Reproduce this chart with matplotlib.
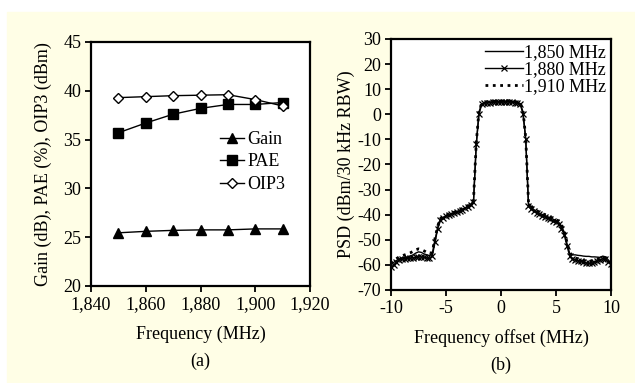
import numpy as np
import matplotlib.pyplot as plt
from matplotlib.patches import Rectangle

plt.rcParams['font.family'] = ['Liberation Serif', 'DejaVu Serif']
plt.rcParams['font.size'] = 13
plt.rcParams['axes.unicode_minus'] = False

# (a) gain / PAE / OIP3 against frequency
freq = [1850, 1860, 1870, 1880, 1890, 1900, 1910]
gain = [25.45, 25.6, 25.7, 25.75, 25.75, 25.85, 25.85]
pae = [35.7, 36.7, 37.6, 38.2, 38.6, 38.6, 38.8]
oip3 = [39.3, 39.4, 39.5, 39.55, 39.6, 39.1, 38.45]
freq_ticks = [1840, 1860, 1880, 1900, 1920]
freq_labels = ['1,840', '1,860', '1,880', '1,900', '1,920']
left_yticks = [20, 25, 30, 35, 40, 45]

# (b) PSD against frequency offset, sampled every 0.25 MHz
offset = np.arange(-10, 10.001, 0.25)
psd_1850 = [-60.0, -59.0, -58.2, -57.6, -57.2, -57.0, -56.8, -56.5, -56.0, -55.3,
            -54.8, -55.0, -55.6, -56.0, -56.3, -55.5, -50.0, -45.0, -41.8, -41.0,
            -40.4, -40.0, -39.6, -39.2, -38.8, -38.3, -37.8, -37.2, -36.6, -35.8,
            -34.5, -12.0, 1.0, 4.2, 4.6, 4.8, 4.9, 5.0, 5.0, 5.1,
            5.0, 5.1, 5.2, 5.1, 5.0, 4.9, 4.7, 4.3, 1.0, -10.0,
            -35.5, -37.0, -38.0, -38.8, -39.4, -39.9, -40.4, -40.9, -41.3, -41.8,
            -42.3, -43.0, -44.5, -47.0, -51.5, -55.5, -56.0, -56.0, -56.2, -56.3,
            -56.5, -56.6, -56.6, -56.8, -56.8, -56.9, -57.0, -56.5, -56.8, -58.0,
            -59.5]
psd_1880 = [-61.0, -60.0, -58.8, -58.0, -57.8, -57.6, -57.4, -57.3, -57.2, -57.0,
            -56.8, -56.8, -57.0, -57.2, -57.4, -56.5, -51.0, -45.5, -42.3, -41.2,
            -40.6, -40.2, -39.8, -39.4, -39.0, -38.6, -38.0, -37.4, -36.8, -36.0,
            -35.0, -12.0, 0.0, 4.0, 4.4, 4.6, 4.7, 4.8, 4.8, 4.9,
            4.8, 4.9, 5.0, 4.9, 4.8, 4.7, 4.5, 4.1, 0.0, -10.0,
            -36.5, -37.8, -38.6, -39.3, -39.9, -40.4, -40.9, -41.4, -41.9, -42.4,
            -43.0, -43.8, -45.5, -48.0, -52.5, -56.5, -57.5, -58.0, -58.3, -58.6,
            -58.9, -59.2, -59.4, -59.3, -59.0, -58.5, -58.0, -57.5, -57.8, -58.8,
            -59.8]
psd_1910 = [-59.5, -58.5, -57.5, -56.8, -56.4, -56.0, -55.6, -55.2, -54.6, -54.0,
            -53.6, -53.8, -54.4, -55.0, -55.4, -55.0, -49.5, -44.5, -41.5, -40.8,
            -40.2, -39.8, -39.4, -39.0, -38.6, -38.0, -37.5, -37.0, -36.4, -35.6,
            -34.2, -11.5, 1.5, 4.4, 4.8, 5.0, 5.1, 5.2, 5.2, 5.3,
            5.2, 5.3, 5.4, 5.3, 5.2, 5.1, 4.9, 4.5, 1.5, -9.5,
            -35.0, -36.6, -37.6, -38.4, -39.0, -39.5, -40.0, -40.5, -41.0, -41.4,
            -41.9, -42.6, -44.0, -46.5, -51.0, -55.0, -56.5, -57.2, -57.6, -57.9,
            -58.2, -58.4, -58.5, -58.4, -58.2, -57.8, -57.4, -57.0, -57.3, -58.2,
            -59.2]
offset_ticks = [-10, -5, 0, 5, 10]
psd_yticks = [30, 20, 10, 0, -10, -20, -30, -40, -50, -60, -70]

W, H = 635, 383
fig = plt.figure(figsize=(W / 100, H / 100), dpi=100)
fig.patch.set_facecolor('white')
fig.patches.append(Rectangle((7 / W, 0), 1 - 7 / W, (H - 12) / H,
                             transform=fig.transFigure, color='#FFFEE6', zorder=-10))


def style(ax):
    for s in ax.spines.values():
        s.set_linewidth(1.6)
    ax.tick_params(direction='out', length=4, width=1.3, top=False, right=False, pad=3)


# panel (a)
ax1 = fig.add_axes([91 / W, 1 - 286 / H, 219 / W, 244 / H])
ax1.plot(freq, gain, '-^', color='black', lw=1, ms=7, label='Gain')
ax1.plot(freq, pae, '-s', color='black', lw=1, ms=6.5, label='PAE')
ax1.plot(freq, oip3, '-D', color='black', mfc='white', lw=1, ms=5, label='OIP3')
ax1.set_xlim(1840, 1920)
ax1.set_ylim(20, 45)
ax1.set_xticks(freq_ticks)
ax1.set_xticklabels(freq_labels)
ax1.set_yticks(left_yticks)
style(ax1)
ax1.set_ylabel('Gain (dB), PAE (%), OIP3 (dBm)', labelpad=8)
ax1.set_xlabel('Frequency (MHz)', labelpad=9)
ax1.text(0.5, -0.31, '(a)', transform=ax1.transAxes, ha='center', va='center')
ax1.legend(loc='upper left', bbox_to_anchor=(0.59, 0.635), frameon=False,
           handlelength=1.3, handletextpad=0.2, labelspacing=0.3, borderpad=0,
           borderaxespad=0)

# panel (b)
ax2 = fig.add_axes([391 / W, 1 - 290 / H, 220 / W, 251 / H])
ax2.plot(offset, psd_1850, '-', color='black', lw=1, label='1,850 MHz')
ax2.plot(offset, psd_1880, '-x', color='black', lw=1, ms=4, mew=0.9, label='1,880 MHz')
ax2.plot(offset, psd_1910, ':', color='black', lw=2, label='1,910 MHz')
ax2.set_xlim(-10, 10)
ax2.set_ylim(-70, 30)
ax2.set_xticks(offset_ticks)
ax2.set_yticks(psd_yticks)
style(ax2)
ax2.set_ylabel('PSD (dBm/30 kHz RBW)', labelpad=2)
ax2.set_xlabel('Frequency offset (MHz)', labelpad=9)
ax2.text(0.5, -0.30, '(b)', transform=ax2.transAxes, ha='center', va='center')
ax2.legend(loc='upper right', bbox_to_anchor=(0.98, 0.98), frameon=False,
           handlelength=2.1, handletextpad=0.1, labelspacing=0.0, borderpad=0,
           borderaxespad=0)

fig.savefig('out.png', dpi=100)
